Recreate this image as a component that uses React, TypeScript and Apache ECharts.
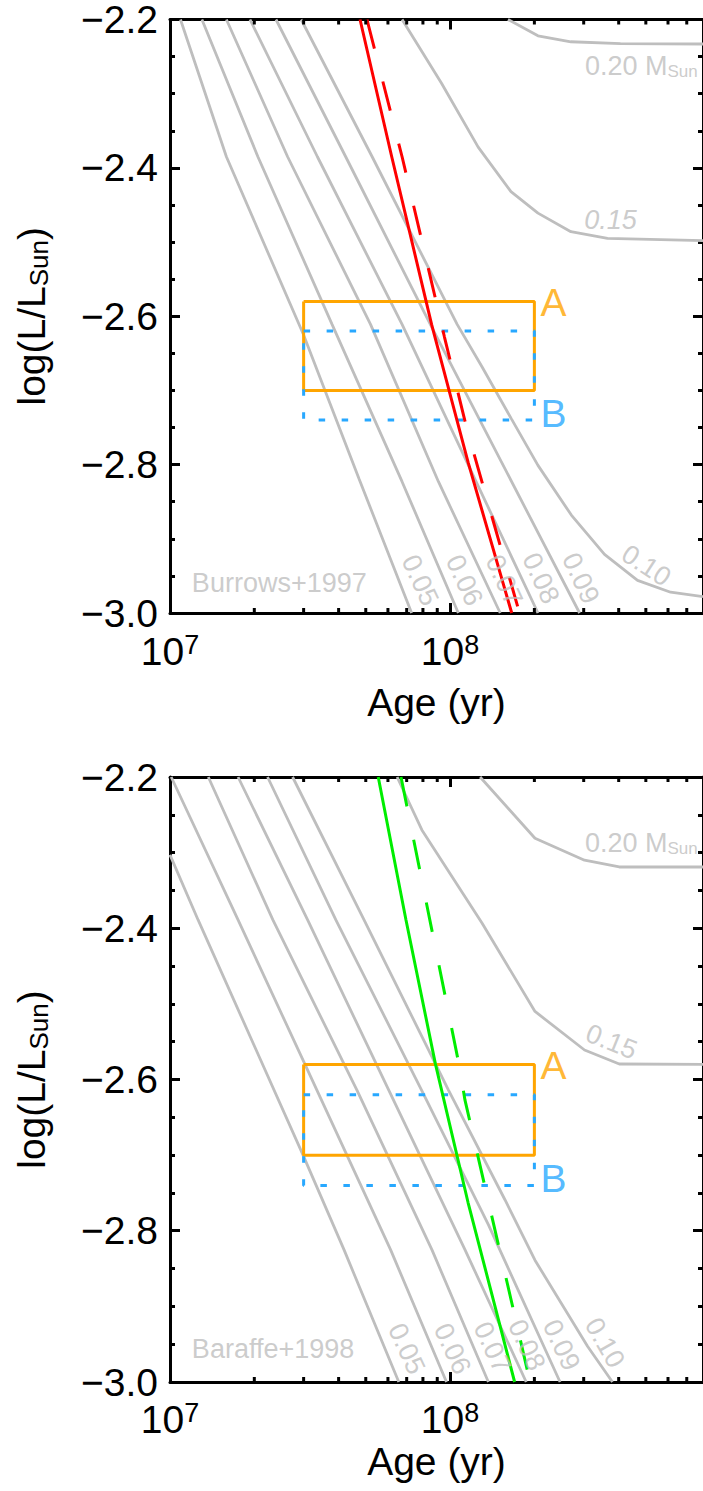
import React, { useEffect, useRef } from 'react';
import * as echarts from 'echarts';

const FONT = '"Liberation Sans", Arial, Helvetica, sans-serif';
const GRAY = '#BEBEBE';
const ORANGE = '#FFA500';
const BLUE = '#28A8FF';
const RED = '#FF0000';
const GREEN = '#00EE00';

// Axis ranges
const AGE_MIN = 1e7;
const AGE_MAX = 8e8;
const LOGL_MIN = -3.0;
const LOGL_MAX = -2.2;
const LOGL_STEP = 0.2;
const minorAges = [2e7, 3e7, 4e7, 5e7, 6e7, 7e7, 8e7, 9e7, 2e8, 3e8, 4e8, 5e8, 6e8, 7e8];

// Burrows+1997 mass tracks: [age (yr), log(L/Lsun)]
const burrows005 = [[1.09e7, -2.2], [1.59e7, -2.385], [2.99e7, -2.624], [4.73e7, -2.819], [7.29e7, -3.0]];
const burrows006 = [[1.30e7, -2.2], [2.06e7, -2.385], [3.79e7, -2.611], [6.74e7, -2.823], [1.07e8, -3.0]];
const burrows007 = [[1.59e7, -2.2], [2.63e7, -2.385], [5.20e7, -2.611], [9.09e7, -2.823], [1.51e8, -3.0]];
const burrows008 = [[1.93e7, -2.2], [3.36e7, -2.385], [6.74e7, -2.611], [2.06e8, -3.0]];
const burrows009 = [[2.39e7, -2.2], [4.24e7, -2.385], [8.50e7, -2.611], [2.90e8, -3.0]];
const burrows010 = [[2.94e7, -2.2], [5.27e7, -2.385], [1.06e8, -2.611], [1.30e8, -2.668], [1.66e8, -2.739], [2.06e8, -2.801], [2.71e8, -2.868], [3.56e8, -2.921], [4.67e8, -2.956], [6.13e8, -2.972], [8.0e8, -2.978]];
const burrows015 = [[6.74e7, -2.2], [9.32e7, -2.286], [1.26e8, -2.372], [1.65e8, -2.432], [2.06e8, -2.461], [2.70e8, -2.486], [3.65e8, -2.495], [8.0e8, -2.498]];
const burrows020 = [[1.61e8, -2.2], [2.06e8, -2.222], [2.70e8, -2.230], [4.06e8, -2.2325], [8.0e8, -2.233]];
const burrowsRedSolid = [[4.77e7, -2.2], [6.19e7, -2.385], [8.59e7, -2.611], [1.16e8, -2.797], [1.66e8, -3.0]];
const burrowsRedDashed = [[5.05e7, -2.2], [6.74e7, -2.385], [9.55e7, -2.628], [1.15e8, -2.753], [1.77e8, -3.0]];

// Baraffe+1998 mass tracks
const baraffe005 = [[1.00e7, -2.303], [1.26e7, -2.389], [2.97e7, -2.698], [4.18e7, -2.825], [6.56e7, -3.0]];
const baraffe006 = [[1.01e7, -2.2], [1.75e7, -2.389], [3.06e7, -2.583], [6.13e7, -2.825], [9.71e7, -3.0]];
const baraffe007 = [[1.37e7, -2.2], [2.33e7, -2.389], [4.65e7, -2.614], [8.61e7, -2.825], [1.37e8, -3.0]];
const baraffe008 = [[1.75e7, -2.2], [3.10e7, -2.389], [6.04e7, -2.614], [1.13e8, -2.825], [1.87e8, -3.0]];
const baraffe009 = [[2.23e7, -2.2], [3.91e7, -2.389], [7.91e7, -2.614], [1.37e8, -2.792], [2.47e8, -3.0]];
const baraffe010 = [[2.74e7, -2.2], [4.93e7, -2.389], [9.87e7, -2.614], [1.57e8, -2.759], [2.01e8, -2.839], [3.10e8, -2.953], [3.80e8, -3.0]];
const baraffe015 = [[6.47e7, -2.2], [7.93e7, -2.270], [1.30e8, -2.393], [2.01e8, -2.510], [3.02e8, -2.561], [4.02e8, -2.5795], [8.0e8, -2.58]];
const baraffe020 = [[1.28e8, -2.2], [2.01e8, -2.281], [3.02e8, -2.310], [4.02e8, -2.319], [8.0e8, -2.319]];
const baraffeGreenSolid = [[5.54e7, -2.2], [6.96e7, -2.389], [8.86e7, -2.579], [1.16e8, -2.763], [1.70e8, -3.0]];
const baraffeGreenDashed = [[6.68e7, -2.2], [1.08e8, -2.583], [1.13e8, -2.627], [1.93e8, -3.0]];

// Boxes A and B: age range and log L range
const boxAges = [3e7, 2e8];
const boxALogL = [-2.70, -2.58];
const boxBLogL = [-2.74, -2.62];

// Annotation anchors (age, logL)
const burrowsLabels = [
  { text: '0.05', age: 7.82e7, logL: -2.956, angle: -65 },
  { text: '0.06', age: 1.125e8, logL: -2.956, angle: -65 },
  { text: '0.07', age: 1.56e8, logL: -2.956, angle: -65 },
  { text: '0.08', age: 2.11e8, logL: -2.953, angle: -65 },
  { text: '0.09', age: 2.93e8, logL: -2.953, angle: -65 },
  { text: '0.10', age: 5.02e8, logL: -2.936, angle: -33 },
  { text: '0.15', age: 3.74e8, logL: -2.470, angle: 0, italic: true },
];
const baraffeLabels = [
  { text: '0.05', age: 7.0e7, logL: -2.956, angle: -65 },
  { text: '0.06', age: 1.02e8, logL: -2.956, angle: -65 },
  { text: '0.07', age: 1.415e8, logL: -2.954, angle: -65 },
  { text: '0.08', age: 1.88e8, logL: -2.951, angle: -65 },
  { text: '0.09', age: 2.5e8, logL: -2.951, angle: -65 },
  { text: '0.10', age: 3.57e8, logL: -2.948, angle: -60 },
  { text: '0.15', age: 3.77e8, logL: -2.550, angle: -22 },
];
const massTopAnchor = [[3.03e8, -2.2624], [3.03e8, -2.2873]];
const modelNames = ['Burrows+1997', 'Baraffe+1998'];
const modelAnchor = [[1.197e7, -2.9595], [1.197e7, -2.956]];
const boxLabelAnchorA = [2e8, -2.5815];
const boxLabelAnchorB = [2e8, -2.731];

const panels = [
  { top: 10.5, height: 602.5, labelMargin: 18.5, nameGap: 69.5 },
  { top: 777, height: 605, labelMargin: 17, nameGap: 60 },
];

function boxPolygon(ages: number[], logL: number[]) {
  return [
    [ages[0], logL[1]], [ages[1], logL[1]], [ages[1], logL[0]], [ages[0], logL[0]], [ages[0], logL[1]],
  ];
}

function buildOption() {
  const grids: any[] = [];
  const xAxes: any[] = [];
  const yAxes: any[] = [];
  const series: any[] = [];

  const tickStyle = { show: true, inside: true, length: 10, lineStyle: { color: '#000', width: 3 } };
  const minorStyle = { show: true, splitNumber: 4, length: 5, lineStyle: { color: '#000', width: 3 } };
  const axisLine = { show: true, onZero: false, lineStyle: { color: '#000', width: 3 } };

  panels.forEach((p, gi) => {
    grids.push({ left: 170, right: -3, top: p.top, height: p.height, containLabel: false });
    // bottom x
    xAxes.push({
      type: 'log', logBase: 10, gridIndex: gi, position: 'bottom', min: AGE_MIN, max: AGE_MAX,
      axisLine, axisTick: tickStyle, splitLine: { show: false },
      axisLabel: {
        show: true, margin: p.labelMargin, showMaxLabel: false, showMinLabel: true,
        formatter: (v: number) => '{b|10}{s|' + Math.round(Math.log10(v)) + '}',
        rich: {
          b: { fontFamily: FONT, fontSize: 39, lineHeight: 40, color: '#000' },
          s: { fontFamily: FONT, fontSize: 27, lineHeight: 21, verticalAlign: 'top', color: '#000' },
        },
      },
      name: 'Age (yr)', nameLocation: 'middle', nameGap: p.nameGap,
      nameTextStyle: { fontFamily: FONT, fontSize: 39, color: '#000' },
    });
    // top x
    xAxes.push({
      type: 'log', logBase: 10, gridIndex: gi, position: 'top', min: AGE_MIN, max: AGE_MAX,
      axisLine, axisTick: tickStyle, splitLine: { show: false }, axisLabel: { show: false },
    });
    // left y
    yAxes.push({
      type: 'value', gridIndex: gi, position: 'left', min: LOGL_MIN, max: LOGL_MAX, interval: LOGL_STEP,
      axisLine, axisTick: tickStyle, minorTick: minorStyle, splitLine: { show: false }, minorSplitLine: { show: false },
      axisLabel: {
        show: true, margin: 12, fontFamily: FONT, fontSize: 39, color: '#000',
        formatter: (v: number) => (v < 0 ? '\u2212' : '') + Math.abs(v).toFixed(1),
      },
      name: '{m|log(L/L}{s|Sun}{m|)}', nameLocation: 'middle', nameRotate: 90, nameGap: 118.5,
      nameTextStyle: {
        rich: {
          m: { fontFamily: FONT, fontSize: 39, lineHeight: 40, color: '#000' },
          s: { fontFamily: FONT, fontSize: 26, lineHeight: 19, verticalAlign: 'bottom', color: '#000' },
        },
      },
    });
    // right y
    yAxes.push({
      type: 'value', gridIndex: gi, position: 'right', min: LOGL_MIN, max: LOGL_MAX, interval: LOGL_STEP,
      axisLine, axisTick: tickStyle, minorTick: minorStyle, splitLine: { show: false }, axisLabel: { show: false },
    });

    const xi = gi * 2;
    const yi = gi * 2;
    const tracks = gi === 0
      ? [burrows005, burrows006, burrows007, burrows008, burrows009, burrows010, burrows015, burrows020]
      : [baraffe005, baraffe006, baraffe007, baraffe008, baraffe009, baraffe010, baraffe015, baraffe020];
    tracks.forEach((t) => {
      series.push({
        type: 'line', xAxisIndex: xi, yAxisIndex: yi, data: t, symbol: 'none', silent: true, z: 2,
        lineStyle: { color: GRAY, width: 2.8 },
      });
    });
    // boxes
    series.push({
      type: 'line', xAxisIndex: xi, yAxisIndex: yi, data: boxPolygon(boxAges, boxALogL), symbol: 'none', silent: true, z: 3,
      lineStyle: { color: ORANGE, width: 3 },
    });
    series.push({
      type: 'line', xAxisIndex: xi, yAxisIndex: yi, data: boxPolygon(boxAges, boxBLogL), symbol: 'none', silent: true, z: 3,
      lineStyle: { color: BLUE, width: 3, type: [6.5, 16.5] },
    });
    // age relations
    const solid = gi === 0 ? burrowsRedSolid : baraffeGreenSolid;
    const dashed = gi === 0 ? burrowsRedDashed : baraffeGreenDashed;
    const col = gi === 0 ? RED : GREEN;
    series.push({
      type: 'line', xAxisIndex: xi, yAxisIndex: yi, data: solid, symbol: 'none', silent: true, z: 4,
      lineStyle: { color: col, width: 3 },
    });
    series.push({
      type: 'line', xAxisIndex: xi, yAxisIndex: yi, data: dashed, symbol: 'none', silent: true, z: 4,
      lineStyle: { color: col, width: 3, type: [30, 34] },
    });

    // labels
    const labs = gi === 0 ? burrowsLabels : baraffeLabels;
    const labelData: any[] = labs.map((l) => ({
      value: [l.age, l.logL],
      label: {
        show: true, position: 'inside', formatter: l.text, rotate: l.angle,
        fontFamily: FONT, fontSize: 27, color: GRAY, fontStyle: (l as any).italic ? 'italic' : 'normal',
      },
    }));
    labelData.push({
      value: massTopAnchor[gi],
      label: {
        show: true, position: 'right', distance: 0, formatter: '{a|0.20 M}{b|Sun}',
        rich: {
          a: { fontFamily: FONT, fontSize: 27, lineHeight: 28, color: GRAY },
          b: { fontFamily: FONT, fontSize: 17, lineHeight: 13, verticalAlign: 'bottom', color: GRAY },
        },
      },
    });
    labelData.push({
      value: modelAnchor[gi],
      label: { show: true, position: 'right', distance: 0, formatter: modelNames[gi], fontFamily: FONT, fontSize: 27, color: GRAY },
    });
    labelData.push({
      value: boxLabelAnchorA,
      label: { show: true, position: 'right', distance: 6, formatter: 'A', fontFamily: FONT, fontSize: 39, color: ORANGE },
    });
    labelData.push({
      value: boxLabelAnchorB,
      label: { show: true, position: 'right', distance: 6, formatter: 'B', fontFamily: FONT, fontSize: 39, color: BLUE },
    });
    series.push({
      type: 'scatter', xAxisIndex: xi, yAxisIndex: yi, symbolSize: 0, silent: true, z: 5, data: labelData,
    });

    // minor log ticks on bottom and top axes
    series.push({
      type: 'custom', xAxisIndex: xi, yAxisIndex: yi, silent: true, z: 6, clip: false,
      data: minorAges.map((a) => [a, LOGL_MIN]),
      renderItem: (params: any, api: any) => {
        const v = api.value(0);
        const pb = api.coord([v, LOGL_MIN]);
        const pt = api.coord([v, LOGL_MAX]);
        const st = { stroke: '#000', lineWidth: 3 };
        return {
          type: 'group',
          children: [
            { type: 'line', shape: { x1: pb[0], y1: pb[1], x2: pb[0], y2: pb[1] - 5 }, style: st },
            { type: 'line', shape: { x1: pt[0], y1: pt[1], x2: pt[0], y2: pt[1] + 5 }, style: st },
          ],
        };
      },
    });
  });

  return {
    animation: false,
    backgroundColor: '#fff',
    grid: grids,
    xAxis: xAxes,
    yAxis: yAxes,
    series,
  };
}

export default function App() {
  const ref = useRef<HTMLDivElement>(null);
  useEffect(() => {
    if (!ref.current) return;
    const chart = echarts.init(ref.current, null, { renderer: 'svg' });
    chart.setOption(buildOption() as any);
    return () => chart.dispose();
  }, []);
  return (
    <div
      ref={ref}
      style={{ position: 'absolute', left: 0, top: 0, width: 703, height: 1491, overflow: 'hidden' }}
    />
  );
}
